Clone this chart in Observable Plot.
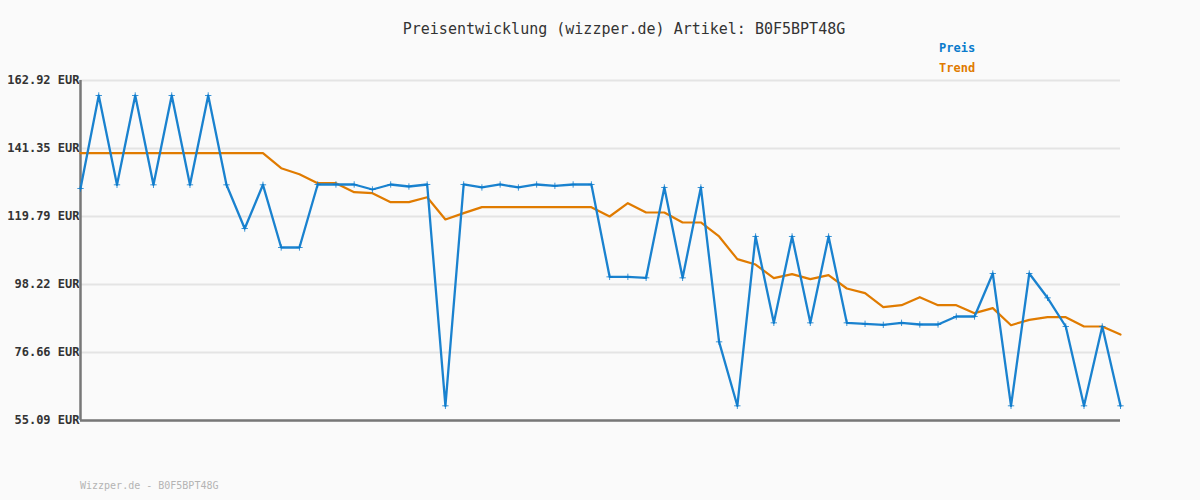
<!DOCTYPE html>
<html>
<head>
<meta charset="utf-8">
<script src="https://cdn.jsdelivr.net/npm/d3@7"></script>
<script src="https://cdn.jsdelivr.net/npm/@observablehq/plot@0.6"></script>
<style>
  body { margin: 0; background: #fafafa; }
  #wrap { position: relative; width: 1200px; height: 500px; background: #fafafa; font-family: "DejaVu Sans Mono", monospace; }
  #wrap svg { position: absolute; left: 0; top: 0; }
  .title { position: absolute; left: 0; width: 1248px; top: 20px; text-align: center; font-size: 15px; color: #333; }
  .leg { position: absolute; left: 939px; font-size: 12px; font-weight: bold; }
  .foot { position: absolute; left: 80px; top: 480px; font-size: 10px; color: #b4b4b4; }
</style>
</head>
<body>
<div id="wrap">
  <div class="title">Preisentwicklung (wizzper.de) Artikel: B0F5BPT48G</div>
  <div class="leg" style="top:41px;color:#0a7acc">Preis</div>
  <div class="leg" style="top:61px;color:#e07b00">Trend</div>
  <div class="foot">Wizzper.de - B0F5BPT48G</div>
</div>
<script>
const preis = [
  128.67, 158.16, 129.84, 158.16, 129.84, 158.16, 129.84, 158.16, 129.84, 115.98,
  129.84, 109.96, 109.96, 129.94, 129.94, 129.94, 128.35, 129.94, 129.30, 129.94,
  59.75, 129.94, 128.99, 129.94, 128.99, 129.94, 129.51, 129.94, 129.94, 100.65,
  100.65, 100.34, 128.99, 100.34, 128.99, 80.04, 59.75, 113.45, 86.07, 113.45,
  86.07, 113.45, 86.07, 85.75, 85.43, 86.07, 85.54, 85.54, 88.07, 88.07,
  101.71, 59.75, 101.71, 94.00, 84.90, 59.75, 84.90, 59.75
];
const trend = [
  139.87, 139.87, 139.87, 139.87, 139.87, 139.87, 139.87, 139.87, 139.87, 139.87,
  139.87, 135.11, 133.21, 130.35, 130.35, 127.49, 127.18, 124.33, 124.33, 125.91,
  118.84, 120.85, 122.75, 122.75, 122.75, 122.75, 122.75, 122.75, 122.75, 119.79,
  124.02, 121.06, 121.06, 117.89, 117.89, 113.45, 106.26, 104.56, 100.23, 101.50,
  99.91, 101.18, 96.95, 95.47, 91.03, 91.67, 94.20, 91.67, 91.67, 89.13,
  90.72, 85.32, 87.02, 87.86, 87.86, 84.90, 84.90, 82.36
];
const yTicks = [55.09, 76.66, 98.22, 119.79, 141.35, 162.92];

const preisData = preis.map((v, i) => ({i, v}));
const trendData = trend.map((v, i) => ({i, v}));

const chart = Plot.plot({
  width: 1200,
  height: 500,
  marginTop: 80,
  marginBottom: 80,
  marginLeft: 80,
  marginRight: 80,
  style: {background: "transparent", fontFamily: "DejaVu Sans Mono, monospace"},
  x: {domain: [0, preis.length - 1], axis: null},
  y: {domain: [55.09, 162.92]},
  marks: [
    Plot.gridY(yTicks, {stroke: "#e4e4e4", strokeOpacity: 1, strokeWidth: 2}),
    Plot.axisY(yTicks, {
      tickSize: 0, tickPadding: 1, fontSize: 12, fontWeight: "bold", fill: "#333",
      tickFormat: d => d.toFixed(2) + " EUR", label: null
    }),
    Plot.ruleX([0], {stroke: "#777", strokeWidth: 2.5}),
    Plot.ruleY([55.09], {stroke: "#777", strokeWidth: 2.5}),
    Plot.line(trendData, {x: "i", y: "v", stroke: "#e07b00", strokeWidth: 2.2}),
    Plot.line(preisData, {x: "i", y: "v", stroke: "#1a82cf", strokeWidth: 2.3}),
    Plot.dot(preisData, {x: "i", y: "v", symbol: "plus", r: 2.2, fill: "#0a7acc", stroke: "#0a7acc", strokeWidth: 0.8})
  ]
});
document.getElementById("wrap").prepend(chart);
</script>
</body>
</html>
